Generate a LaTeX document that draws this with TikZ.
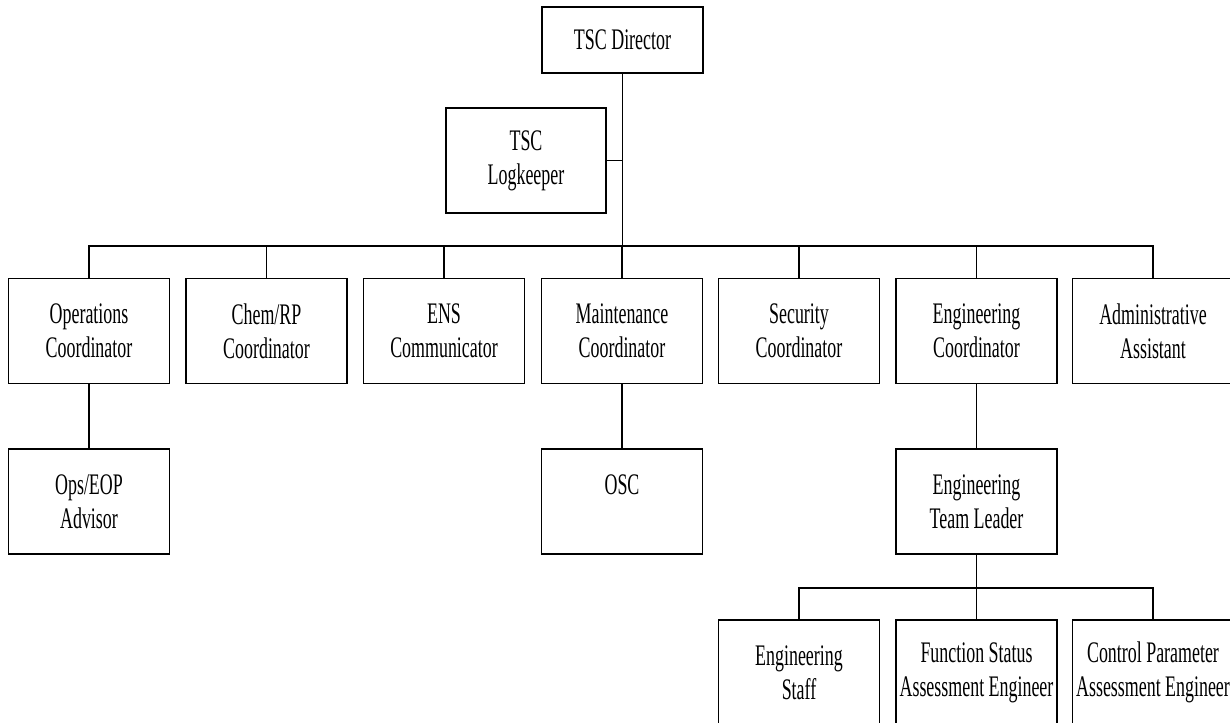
\documentclass[tikz,border=0pt]{standalone}
\usepackage{fontspec}
\setmainfont[FakeStretch=0.6]{Liberation Serif}
\usepackage{tikz}
\tikzset{
  box/.style={draw, line width=1.1pt, align=center, inner sep=0pt,
    minimum width=3.22cm, minimum height=2.1cm, font=\fontsize{17}{19.5}\selectfont},
  link/.style={line width=1.1pt}
}

\begin{document}
\begin{tikzpicture}[x=0.02cm,y=-0.02cm]
        \useasboundingbox (0,0) rectangle (1230,723);

        %%% Top %%%
        \node[box,minimum height=1.32cm] (dir) at (622.5,40) {TSC Director};
        \node[box,minimum width=3.2cm] (log) at (526,160.5) {TSC\\Logkeeper};
        \coordinate (bus) at (622.5,246);
        \draw[link] (dir.south) -- (bus);
        \draw[link] (log.east) -- (log.east -| dir.south);

        %%% Coordinators %%%
        \node[box] (ops) at (89,331) {Operations\\Coordinator};
        \node[box] (chem) at (266.5,331) {Chem/RP\\Coordinator};
        \node[box] (ens) at (444,331) {ENS\\Communicator};
        \node[box] (mnt) at (622,331) {Maintenance\\Coordinator};
        \node[box] (sec) at (799,331) {Security\\Coordinator};
        \node[box] (eng) at (976.5,331) {Engineering\\Coordinator};
        \node[box] (adm) at (1153,331) {Administrative\\Assistant};
        \foreach \n in {ops,chem,ens,mnt,sec,eng,adm}
            \draw[link] (\n.north) |- (bus);

        %%% Second level %%%
        \node[box] (adv) at (89,501.5) {Ops/EOP\\Advisor};
        \node[box] (osc) at (622,501.5) {OSC\\~};
        \node[box] (lead) at (976.5,501.5) {Engineering\\Team Leader};
        \draw[link] (ops.south) -- (adv.north);
        \draw[link] (mnt.south) -- (osc.north);
        \draw[link] (eng.south) -- (lead.north);

        %%% Engineering team %%%
        \coordinate (tbus) at (976.5,588);
        \node[box] (staff) at (799,672.5) {Engineering\\Staff};
        \node[box] (fse) at (976.5,672.5) {Function Status\\Assessment Engineer};
        \node[box] (cpe) at (1153,672.5) {Control Parameter\\Assessment Engineer};
        \draw[link] (lead.south) -- (tbus);
        \foreach \n in {staff,fse,cpe}
            \draw[link] (\n.north) |- (tbus);
\end{tikzpicture}
\end{document}
